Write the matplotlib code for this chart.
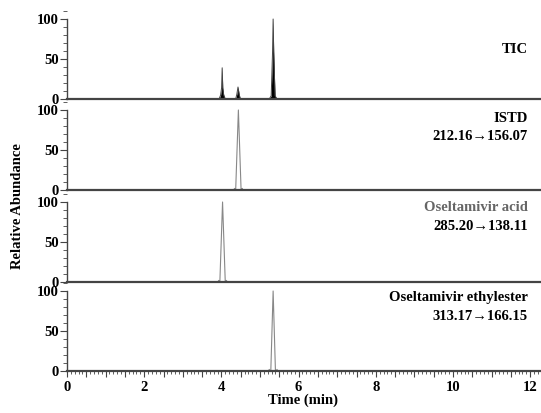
import matplotlib
matplotlib.use("Agg")
import matplotlib.pyplot as plt
from matplotlib.ticker import MultipleLocator, FuncFormatter

plt.rcParams['font.family'] = ['Liberation Serif', 'DejaVu Serif']
plt.rcParams['font.weight'] = 'bold'

# chromatogram traces (time in min, relative abundance)
tic_time = [0, 3.94, 3.98, 4.005, 4.02, 4.035, 4.06, 4.10,
            4.37, 4.40, 4.43, 4.46, 4.49,
            5.24, 5.29, 5.325, 5.34, 5.355, 5.39, 5.44, 12.25]
tic_int = [0, 0, 5, 14, 39, 14, 5, 0,
           0, 6, 15, 6, 0,
           0, 4, 59, 100, 59, 4, 0, 0]

istd_time = [0, 4.32, 4.34, 4.36, 4.37, 4.44, 4.51, 4.52, 4.54, 4.56, 12.25]
istd_int = [0, 0, 2, 0, 0, 100, 0, 0, 2, 0, 0]

acid_time = [0, 3.91, 3.93, 3.95, 3.96, 4.03, 4.10, 4.11, 4.13, 4.15, 12.25]
acid_int = [0, 0, 2, 0, 0, 100, 0, 0, 2, 0, 0]

ester_time = [0, 5.22, 5.24, 5.26, 5.28, 5.34, 5.40, 5.42, 5.44, 5.46, 12.25]
ester_int = [0, 0, 2, 0, 0, 100, 0, 0, 2, 0, 0]

fig = plt.figure(figsize=(5.41, 4.13), dpi=100)

xmax = 12.25
left = 67 / 541
width = xmax * 38.6 / 541
height = 91 / 413
bottoms = [1 - 99 / 413, 1 - 190 / 413, 1 - 282 / 413, 1 - 371 / 413]

axes = []
for b in bottoms:
    ax = fig.add_axes([left, b, width, height])
    ax.set_xlim(0, xmax)
    ax.set_ylim(0, 113.75)
    ax.patch.set_alpha(0)
    for s in ['top', 'right']:
        ax.spines[s].set_visible(False)
    ax.spines['left'].set_bounds(0, 100)
    ax.spines['left'].set_color('#444444')
    ax.spines['bottom'].set_color('#444444')
    ax.spines['left'].set_linewidth(1.0)
    ax.spines['bottom'].set_linewidth(1.6)
    ax.yaxis.set_major_locator(MultipleLocator(50))
    ax.yaxis.set_minor_locator(MultipleLocator(10))
    ax.tick_params(axis='y', which='major', length=5, width=0.8, color='#444444',
                   labelsize=10.5, pad=1)
    ax.tick_params(axis='y', which='minor', length=3, width=0.6, color='#444444')
    axes.append(ax)

# TIC
axes[0].fill_between(tic_time, tic_int, color='black', lw=0)
axes[0].plot(tic_time, tic_int, color='#444444', lw=0.7)

axes[1].plot(istd_time, istd_int, color='#888888', lw=0.8)
axes[2].plot(acid_time, acid_int, color='#888888', lw=0.8)
axes[3].plot(ester_time, ester_int, color='#888888', lw=0.8)

for ax in axes[:3]:
    ax.tick_params(axis='x', which='both', bottom=False, labelbottom=False)

bx = axes[3]
bx.xaxis.set_major_locator(MultipleLocator(0.5))
bx.xaxis.set_minor_locator(MultipleLocator(0.1))
bx.xaxis.set_major_formatter(FuncFormatter(lambda v, p: '%d' % v if abs(v % 2) < 1e-6 else ''))
bx.tick_params(axis='x', which='major', length=4, width=0.8, color='#444444',
               labelsize=10.5, pad=3)
bx.tick_params(axis='x', which='minor', length=2, width=0.6, color='#444444')
bx.set_xlabel('Time (min)', fontsize=10.5, fontweight='bold', labelpad=0)

tx = 0.975
axes[0].text(tx, 0.54, 'TIC', transform=axes[0].transAxes, ha='right', va='center',
             fontsize=10.5, fontweight='bold')
axes[1].text(tx, 0.79, 'ISTD', transform=axes[1].transAxes, ha='right', va='center',
             fontsize=10.5, fontweight='bold')
axes[1].text(tx, 0.59, '212.16\u2192156.07', transform=axes[1].transAxes, ha='right',
             va='center', fontsize=10.5, fontweight='bold')
axes[2].text(tx, 0.82, 'Oseltamivir acid', transform=axes[2].transAxes, ha='right',
             va='center', fontsize=10.5, fontweight='bold', color='#666666')
axes[2].text(tx, 0.615, '285.20\u2192138.11', transform=axes[2].transAxes, ha='right',
             va='center', fontsize=10.5, fontweight='bold')
axes[3].text(tx, 0.81, 'Oseltamivir ethylester', transform=axes[3].transAxes, ha='right',
             va='center', fontsize=10.5, fontweight='bold')
axes[3].text(tx, 0.60, '313.17\u2192166.15', transform=axes[3].transAxes, ha='right',
             va='center', fontsize=10.5, fontweight='bold')

fig.text(18 / 541, 1 - 206 / 413, 'Relative Abundance', rotation=90, ha='center',
         va='center', fontsize=10.5, fontweight='bold')

fig.savefig('out.png', dpi=100)
